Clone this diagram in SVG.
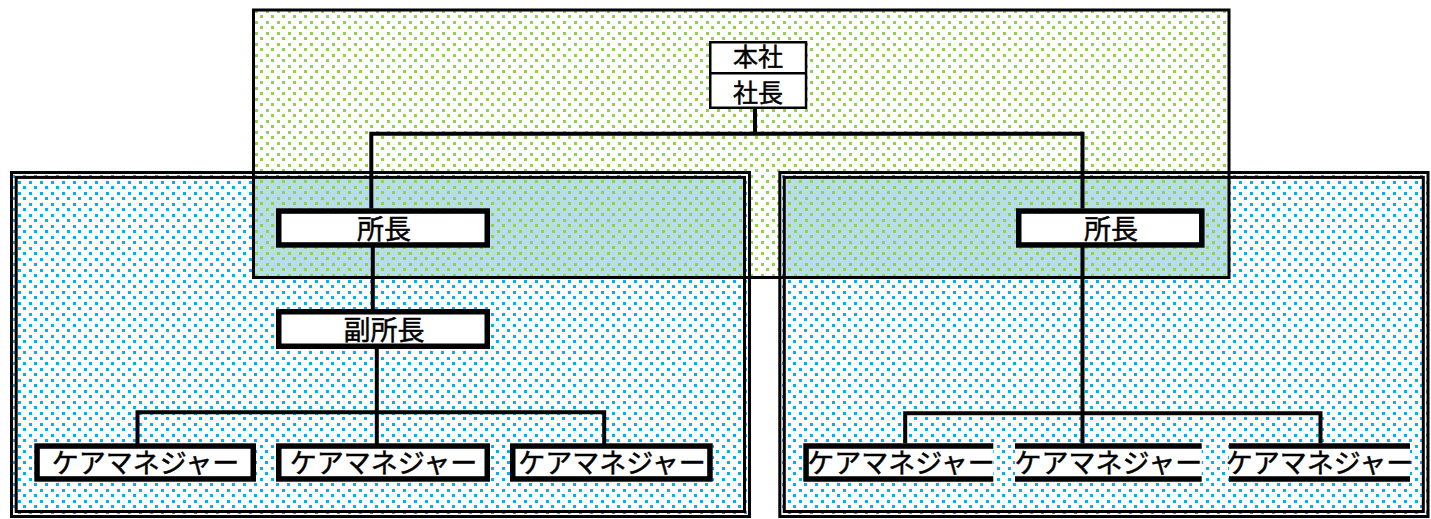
<svg xmlns="http://www.w3.org/2000/svg" width="1431" height="519" viewBox="0 0 1431 519">
<defs>
<pattern id="dotsGreen" patternUnits="userSpaceOnUse" x="7" y="4" width="11" height="11">
<rect x="0" y="0" width="3" height="3" fill="#92d050" shape-rendering="crispEdges"/>
<rect x="6" y="6" width="3" height="3" fill="#92d050" shape-rendering="crispEdges"/>
</pattern>
<pattern id="dotsBlue" patternUnits="userSpaceOnUse" x="1" y="10" width="11" height="11">
<rect x="0" y="0" width="3" height="3" fill="#00b0f0" shape-rendering="crispEdges"/>
<rect x="6" y="6" width="3" height="3" fill="#00b0f0" shape-rendering="crispEdges"/>
</pattern>
</defs>
<style>
.txt{font-family:"Noto Sans CJK JP","Noto Sans CJK SC",sans-serif;font-size:27px;fill:#000;stroke:#000;stroke-width:0.5;text-anchor:middle}
.small{font-size:25px}
.box{fill:#fff;stroke:#000;stroke-width:5.5}
.open{fill:none;stroke:#000;stroke-width:5.5}
.frame{fill:none;stroke:#000;stroke-width:3}
.conn{fill:none;stroke:#000;stroke-width:4;stroke-linejoin:miter}
</style>

<g id="areas">
<rect x="253.5" y="10" width="975.5" height="267.5" fill="#fff"/>
<rect x="253.5" y="10" width="975.5" height="267.5" fill="url(#dotsGreen)"/>
<rect x="11.5" y="172.5" width="738" height="344" fill="#fff"/>
<rect x="11.5" y="172.5" width="738" height="344" fill="url(#dotsBlue)"/>
<rect x="779.8" y="172.5" width="648.2" height="344" fill="#fff"/>
<rect x="779.8" y="172.5" width="648.2" height="344" fill="url(#dotsBlue)"/>
<rect x="255" y="179" width="488" height="97" fill="#b7dde8"/>
<rect x="255" y="179" width="488" height="97" fill="url(#dotsGreen)"/>
<rect x="786" y="179" width="442" height="97" fill="#b7dde8"/>
<rect x="786" y="179" width="442" height="97" fill="url(#dotsGreen)"/>
<rect id="area-honsha" class="frame" x="253.5" y="10" width="975.5" height="267.5"/>
<g id="area-office-left">
<rect class="frame" x="11.5" y="172.5" width="738" height="344"/>
<rect class="frame" x="16.2" y="177.4" width="728.3" height="334.1"/>
</g>
<g id="area-office-right">
<rect class="frame" x="779.8" y="172.5" width="648.2" height="344"/>
<rect class="frame" x="784.3" y="177.4" width="639" height="334.1"/>
</g>
</g>

<g id="connectors">
<path class="conn" stroke-width="3.5" d="M755,109 V133.8"/>
<path class="conn" stroke-width="3.5" d="M371.3,208.5 V133.8 H1082.5 V208.5"/>
<path class="conn" stroke-width="4.5" d="M372.8,247 V310"/>
<path class="conn" stroke-width="5" d="M376.8,348 V444"/>
<path class="conn" d="M137.5,444 V412.3 H604.2 V444"/>
<path class="conn" stroke-width="4.5" d="M1082.5,247 V444"/>
<path class="conn" d="M905.2,444 V413.2 H1320.5 V444"/>
</g>

<g id="node-honsha">
<rect x="710.25" y="42.25" width="95.8" height="65.5" fill="#fff" stroke="#000" stroke-width="2.5"/>
<line x1="710" y1="73.3" x2="806" y2="73.3" stroke="#000" stroke-width="2.5"/>
<text class="txt small" x="758" y="65.8">本社</text>
<text class="txt small" x="758" y="102">社長</text>
</g>

<g id="node-shocho-left">
<rect class="box" x="278.75" y="211.05" width="208.5" height="33.9"/>
<text class="txt" x="384" y="239.3">所長</text>
</g>

<g id="node-fukushocho">
<rect class="box" x="278.75" y="311.75" width="208.5" height="34.5"/>
<text class="txt" x="384" y="340.3">副所長</text>
</g>

<g id="node-cm-l1">
<rect class="box" x="37.05" y="446.05" width="216.2" height="32.9"/>
<text class="txt" x="145.5" y="473">ケアマネジャー</text>
</g>
<g id="node-cm-l2">
<rect class="box" x="278.75" y="446.05" width="208.5" height="32.9"/>
<text class="txt" x="383.5" y="473">ケアマネジャー</text>
</g>
<g id="node-cm-l3">
<rect class="box" x="512.75" y="446.05" width="197.2" height="32.9"/>
<text class="txt" x="612" y="473">ケアマネジャー</text>
</g>

<g id="node-shocho-right">
<rect class="box" x="1018.75" y="211.05" width="183.05" height="33.9"/>
<text class="txt" x="1111" y="239.3">所長</text>
</g>

<g id="node-cm-r1">
<rect x="803.3" y="443.3" width="190" height="38.4" fill="#fff"/>
<path class="open" d="M993.3,446.05 H806.05 V478.95 H993.3"/>
<text class="txt" x="901" y="473">ケアマネジャー</text>
</g>
<g id="node-cm-r2">
<rect x="1015" y="443.3" width="186.7" height="38.4" fill="#fff"/>
<path class="open" d="M1015,446.05 H1201.7 M1015,478.95 H1201.7"/>
<text class="txt" x="1108.4" y="473">ケアマネジャー</text>
</g>
<g id="node-cm-r3">
<rect x="1229" y="443.3" width="181" height="38.4" fill="#fff"/>
<path class="open" d="M1229,446.05 H1410 M1229,478.95 H1410"/>
<text class="txt" x="1319.5" y="473">ケアマネジャー</text>
</g>
</svg>
